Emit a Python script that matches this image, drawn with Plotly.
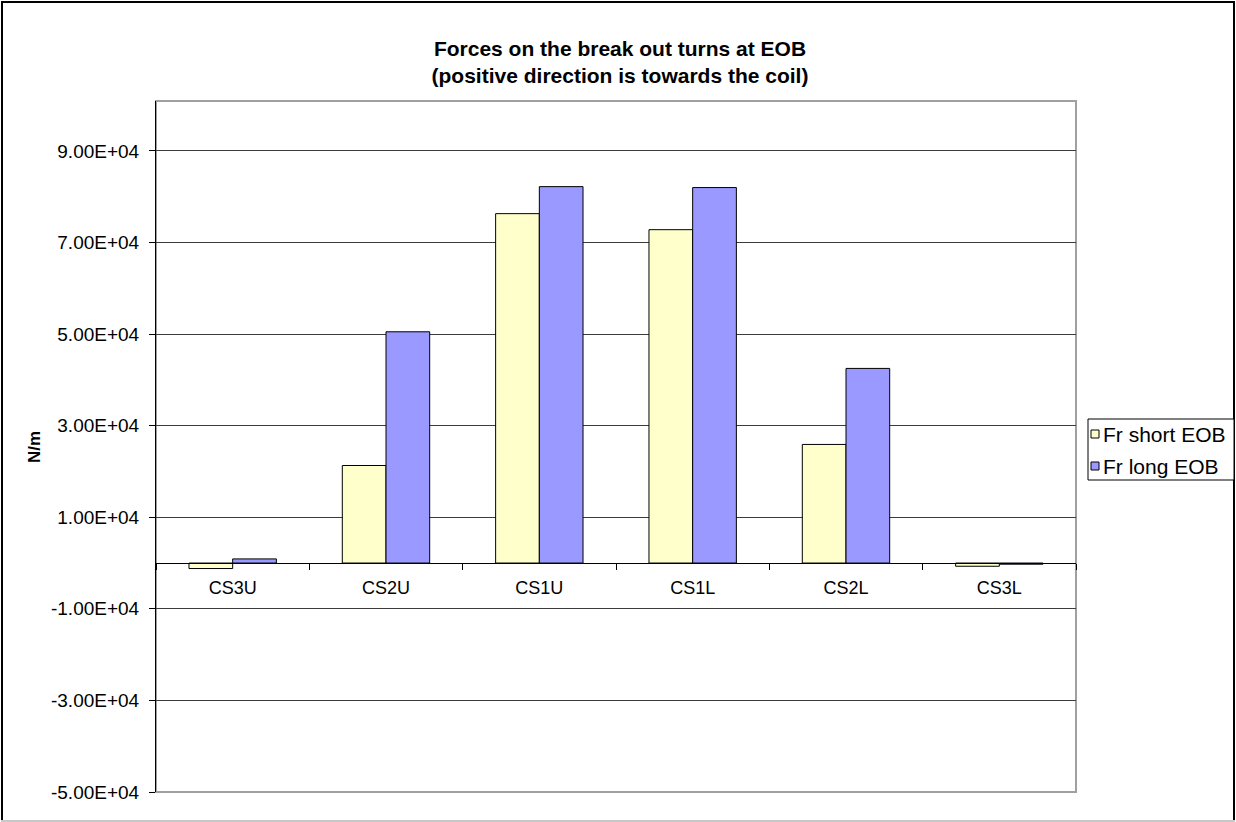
import plotly.graph_objects as go

# Data
categories = ["CS3U", "CS2U", "CS1U", "CS1L", "CS2L", "CS3L"]
series_names = ["Fr short EOB", "Fr long EOB"]
fr_short = [-1200, 21300, 76300, 72800, 25900, -700]
fr_long = [900, 50500, 82200, 82000, 42500, -250]
y_ticks = [-50000, -30000, -10000, 10000, 30000, 50000, 70000, 90000]
y_min, y_max = -50000, 100900

FONT = "Arial, Liberation Sans, sans-serif"
colors = ["#FFFFCC", "#9999FF"]

W, H = 1236, 822
ML, MR, MT, MB = 156, 160, 101, 30
PW, PH = W - ML - MR, H - MT - MB


def px(xp):
    return (xp - ML) / PW


def py(yp):
    return (H - MB - yp) / PH


fig = go.Figure()
for name, vals, col in zip(series_names, [fr_short, fr_long], colors):
    fig.add_trace(go.Bar(
        x=categories, y=vals, name=name,
        marker=dict(color=col, line=dict(color="black", width=1)),
        showlegend=False,
    ))

zero_pos = (0 - y_min) / (y_max - y_min)

fig.update_layout(
    width=W, height=H,
    margin=dict(l=ML, r=MR, t=MT, b=MB),
    paper_bgcolor="white", plot_bgcolor="white",
    barmode="group", bargap=0.43, bargroupgap=0,
    font=dict(family=FONT, color="black"),
    title=dict(
        text="<b>Forces on the break out turns at EOB<br>(positive direction is towards the coil)</b>",
        x=620 / W, xanchor="center", xref="container",
        y=1 - 56 / H, yanchor="middle", yref="container",
        font=dict(family=FONT, size=21, color="black"),
    ),
    xaxis=dict(
        type="category", anchor="free", position=zero_pos,
        showline=True, linecolor="black", linewidth=1,
        ticks="outside", tickson="boundaries", ticklen=6, tickcolor="black",
        tickfont=dict(size=18, family=FONT, color="black"),
        ticklabelstandoff=8,
        showgrid=False, zeroline=False,
    ),
    yaxis=dict(
        range=[y_min, y_max],
        tickvals=y_ticks,
        ticktext=[f"{v:.2E}" for v in y_ticks],
        showline=True, linecolor="black", linewidth=1,
        ticks="outside", ticklen=6, tickcolor="black",
        tickfont=dict(size=19, family=FONT, color="black"),
        ticklabelstandoff=6,
        showgrid=True, gridcolor="#3c3c3c", gridwidth=1,
        zeroline=False,
    ),
)

shapes = [
    # plot area frame
    dict(type="rect", xref="paper", yref="paper", x0=0, x1=1, y0=0, y1=1,
         line=dict(color="#a0a0a0", width=2), layer="below"),
    # chart area border
    dict(type="line", xref="paper", yref="paper", x0=px(2), x1=px(2), y0=py(1), y1=py(821),
         line=dict(color="black", width=2)),
    dict(type="line", xref="paper", yref="paper", x0=px(1), x1=px(1235), y0=py(2), y1=py(2),
         line=dict(color="black", width=2)),
    dict(type="line", xref="paper", yref="paper", x0=px(1234), x1=px(1234), y0=py(1), y1=py(821),
         line=dict(color="black", width=2)),
    dict(type="line", xref="paper", yref="paper", x0=px(1), x1=px(1235), y0=py(821), y1=py(821),
         line=dict(color="#c8c8c8", width=2)),
    # legend box
    dict(type="rect", xref="paper", yref="paper", x0=px(1088), x1=px(1234), y0=py(419), y1=py(480),
         line=dict(color="black", width=1), fillcolor="white"),
]

annotations = [
    dict(text="<b>N/m</b>", textangle=-90, xref="paper", yref="paper",
         x=px(34), y=py(447), xanchor="center", yanchor="middle", showarrow=False,
         font=dict(family=FONT, size=17, color="black")),
]

legend_rows = [434, 466]
for name, col, yc in zip(series_names, colors, legend_rows):
    shapes.append(dict(type="rect", xref="paper", yref="paper",
                       x0=px(1091), x1=px(1099), y0=py(yc - 4), y1=py(yc + 4),
                       fillcolor=col, line=dict(color="black", width=1)))
    annotations.append(dict(text=name, xref="paper", yref="paper",
                            x=px(1101), y=py(yc), xanchor="left", yanchor="middle",
                            showarrow=False,
                            font=dict(family=FONT, size=21, color="black")))

fig.update_layout(shapes=shapes, annotations=annotations)

fig.write_html("out.html")
